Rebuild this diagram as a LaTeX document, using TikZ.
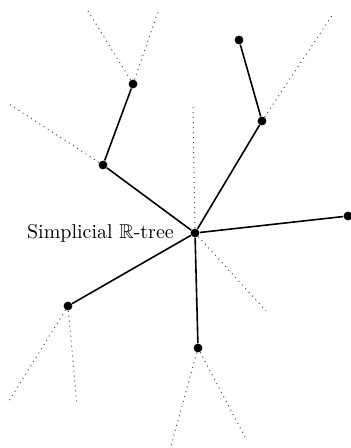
\documentclass[tikz,border=0pt]{standalone}
\usepackage{amssymb}
\usetikzlibrary{positioning}
\tikzset{vertex/.style = {circle, fill, inner sep=0pt, minimum size=4.4pt}}
\tikzset{edge/.style = {line width=0.8pt}}
\tikzset{ray/.style = {dotted, line width=0.5pt, black!70}}

\begin{document}
\begin{tikzpicture}[x=0.5pt, y=-0.5pt]
    \useasboundingbox (0, 0) rectangle (351, 448);

    % vertices
    \node [vertex] (c) at (195, 233) {};
    \node [vertex] (r) at (348, 216) {};
    \node [vertex] (m) at (262, 121) {};
    \node [vertex] (t) at (239, 40) {};
    \node [vertex] (l1) at (103, 165) {};
    \node [vertex] (l2) at (133, 84) {};
    \node [vertex] (bl) at (68, 306) {};
    \node [vertex] (b) at (198, 348) {};

    \node (label) [left=6pt of c, inner sep=2pt] {Simplicial $\mathbb{R}$-tree};

    % ends of the rays
    \coordinate (m1) at (333, 14);
    \coordinate (l2a) at (88, 11);
    \coordinate (l2b) at (159, 9);
    \coordinate (l1a) at (9, 104);
    \coordinate (cu) at (193, 107);
    \coordinate (cd) at (266, 311);
    \coordinate (bla) at (9, 401);
    \coordinate (blb) at (77, 405);
    \coordinate (ba) at (171, 446);
    \coordinate (bb) at (245, 437);

    \draw [edge] (c) -- (r);
    \draw [edge] (c) -- (m) -- (t);
    \draw [edge] (c) -- (l1) -- (l2);
    \draw [edge] (c) -- (bl);
    \draw [edge] (c) -- (b);

    \draw [ray] (m) -- (m1);
    \draw [ray] (l2) -- (l2a);
    \draw [ray] (l2) -- (l2b);
    \draw [ray] (l1) -- (l1a);
    \draw [ray] (c) -- (cu);
    \draw [ray] (c) -- (cd);
    \draw [ray] (bl) -- (bla);
    \draw [ray] (bl) -- (blb);
    \draw [ray] (b) -- (ba);
    \draw [ray] (b) -- (bb);
  \end{tikzpicture}
\end{document}
